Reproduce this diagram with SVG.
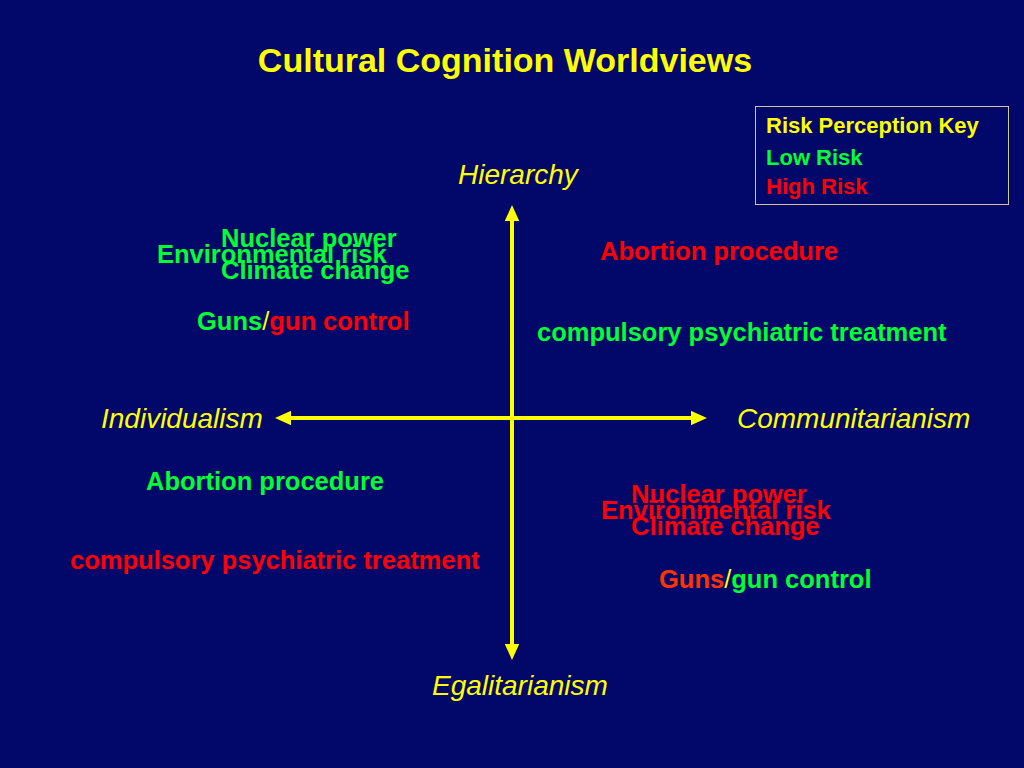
<svg xmlns="http://www.w3.org/2000/svg" width="1024" height="768" viewBox="0 0 1024 768">
<defs>
<style>
text{font-family:"Liberation Sans",Arial,sans-serif;}
.b{font-weight:bold;font-size:25.5px;}
.ax{font-style:italic;font-size:28px;fill:#ffff00;}
.g{fill:#00ff33;}
.r{fill:#ff0000;}
.y{fill:#ffff00;font-weight:normal;}
.o{fill:#ff3300;}
.k{font-weight:bold;font-size:22px;}
</style>
<marker id="ah" markerWidth="4" markerHeight="3.6" refX="2" refY="1.8" orient="auto-start-reverse" markerUnits="strokeWidth">
<path d="M0,0 L4,1.8 L0,3.6 Z" fill="#ffff00"/>
</marker>
</defs>
<rect width="1024" height="768" fill="#02076a"/>
<text x="505" y="72" text-anchor="middle" font-weight="bold" font-size="34" fill="#ffff00">Cultural Cognition Worldviews</text>
<g id="connectors">
<line x1="512" y1="213" x2="512" y2="652" stroke="#ffff00" stroke-width="4" marker-start="url(#ah)" marker-end="url(#ah)"/>
<line x1="283" y1="418" x2="699" y2="418" stroke="#ffff00" stroke-width="4" marker-start="url(#ah)" marker-end="url(#ah)"/>
</g>
<g id="axis-hierarchy"><text class="ax" x="458" y="184">Hierarchy</text></g>
<g id="axis-individualism"><text class="ax" x="101" y="428">Individualism</text></g>
<g id="axis-communitarianism"><text class="ax" x="737" y="428">Communitarianism</text></g>
<g id="axis-egalitarianism"><text class="ax" x="432" y="695">Egalitarianism</text></g>
<g id="key">
<rect x="755.5" y="106.5" width="253" height="98" fill="none" stroke="#c8c89a" stroke-width="1"/>
<text class="k y" x="766" y="133" font-weight="bold" style="font-weight:bold">Risk Perception Key</text>
<text class="k g" x="766" y="165">Low Risk</text>
<text class="k r" x="766" y="194">High Risk</text>
</g>
<g id="q-top-left">
<text class="b g" x="221" y="247">Nuclear power</text>
<text class="b g" x="157" y="263">Environmental risk</text>
<text class="b g" x="221" y="279">Climate change</text>
<text class="b" x="197" y="330"><tspan class="g">Guns</tspan><tspan class="y">/</tspan><tspan class="r">gun control</tspan></text>
</g>
<g id="q-top-right">
<text class="b r" x="600" y="260">Abortion procedure</text>
<text class="b g" x="537" y="341">compulsory psychiatric treatment</text>
</g>
<g id="q-bottom-left">
<text class="b g" x="146" y="490">Abortion procedure</text>
<text class="b r" x="70" y="569">compulsory psychiatric treatment</text>
</g>
<g id="q-bottom-right">
<text class="b r" x="631" y="503">Nuclear power</text>
<text class="b r" x="601" y="519">Environmental risk</text>
<text class="b r" x="631" y="535">Climate change</text>
<text class="b" x="659" y="588"><tspan class="o">Guns</tspan><tspan class="y">/</tspan><tspan class="g">gun control</tspan></text>
</g>
</svg>
